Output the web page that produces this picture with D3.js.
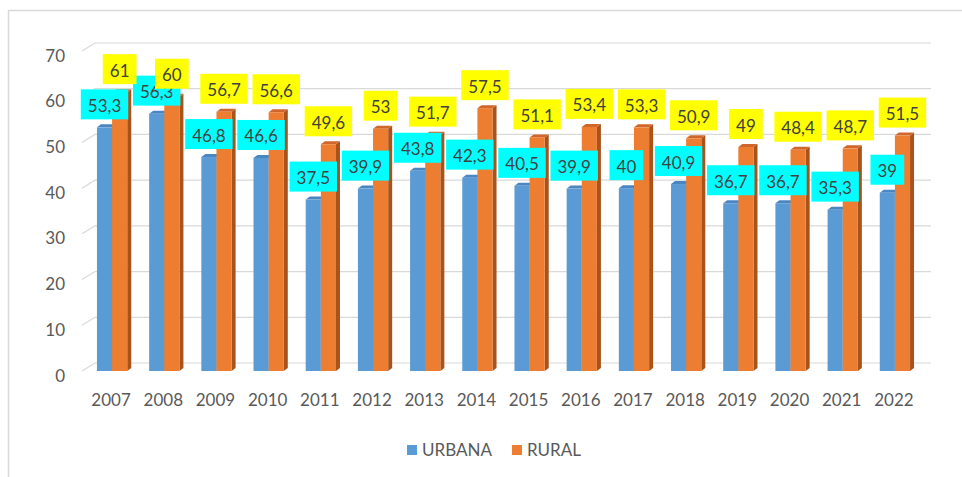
<!DOCTYPE html>
<html>
<head>
<meta charset="utf-8">
<script src="https://cdn.jsdelivr.net/npm/d3@7"></script>
<style>
  html, body { margin: 0; padding: 0; background: #fff; }
  svg { display: block; font-family: Lato, "Open Sans", sans-serif; }
</style>
</head>
<body>
<svg id="chart" width="962" height="477"></svg>
<script>
const years = ["2007","2008","2009","2010","2011","2012","2013","2014","2015","2016","2017","2018","2019","2020","2021","2022"];
const urbana = [53.3,56.3,46.8,46.6,37.5,39.9,43.8,42.3,40.5,39.9,40,40.9,36.7,36.7,35.3,39];
const rural  = [61,60,56.7,56.6,49.6,53,51.7,57.5,51.1,53.4,53.3,50.9,49,48.4,48.7,51.5];
const seriesNames = ["URBANA","RURAL"];
const yTicks = [0,10,20,30,40,50,60,70];

const svg = d3.select("#chart");
const fmt = v => String(v).replace(".", ",");

// frame
svg.append("rect").attr("x",8.5).attr("y",10.5).attr("width",1000).attr("height",1000)
  .attr("fill","none").attr("stroke","#d9d9d9").attr("stroke-width",1.5);

const yF = d3.scaleLinear().domain([0,70]).range([371,51]);   // front plane
const yB = d3.scaleLinear().domain([0,70]).range([363,43]);   // back wall
const x = d3.scaleBand().domain(years).range([86,921]).paddingInner(0.42).paddingOuter(0.21);
const xs = d3.scaleBand().domain(seriesNames).range([0, x.bandwidth()]);

const wallLeft = 95, wallRight = 931, sideFrontX = 82;

// gridlines (side wall slant + back wall)
const grid = svg.append("g").attr("stroke","#d9d9d9").attr("stroke-width",1.2).attr("fill","none");
yTicks.forEach(t => {
  grid.append("path").attr("d", `M${sideFrontX},${yF(t)}L${wallLeft},${yB(t)}L${wallRight},${yB(t)}`);
});

// y tick labels
svg.append("g").selectAll("text").data(yTicks).join("text")
  .attr("x",65).attr("y",d=>yF(d)+4)
  .attr("text-anchor","end").attr("dominant-baseline","central")
  .attr("font-size",17).attr("fill","#595959").text(d=>d);

// bars
const colors = {
  URBANA: {front:"#5B9BD5", top:"#4A86C2", side:"#3F74A8"},
  RURAL:  {front:"#ED7D31", top:"#D0662A", side:"#A9531C"}
};
const dx = 4, dy = -3;
const base = yF(0);
const bars = svg.append("g");
years.forEach((yr,i) => {
  const vals = {URBANA: urbana[i], RURAL: rural[i]};
  seriesNames.forEach(s => {
    const x0 = x(yr) + xs(s), x1 = x0 + xs.bandwidth(), yt = yF(vals[s]);
    const c = colors[s];
    bars.append("path").attr("fill", c.side)
      .attr("d", `M${x1},${yt}L${x1+dx},${yt+dy}L${x1+dx},${base+dy}L${x1},${base}Z`);
    bars.append("path").attr("fill", c.top)
      .attr("d", `M${x0},${yt}L${x0+dx},${yt+dy}L${x1+dx},${yt+dy}L${x1},${yt}Z`);
    bars.append("rect").attr("fill", c.front)
      .attr("x", x0).attr("y", yt).attr("width", x1-x0).attr("height", base-yt);
  });
});

// x labels
svg.append("g").selectAll("text").data(years).join("text")
  .attr("x", d => x(d) + x.bandwidth()/2 - 1).attr("y", 406)
  .attr("text-anchor","middle").attr("font-size",17).attr("fill","#595959").text(d=>d);

// data labels
const labels = svg.append("g");
const boxFill = {URBANA:"#00FFFF", RURAL:"#FFFF00"};
seriesNames.forEach(s => {
  const arr = s === "URBANA" ? urbana : rural;
  years.forEach((yr,i) => {
    const cx = x(yr) + xs(s) + xs.bandwidth()/2;
    const bottom = yF(arr[i]) - 8, h = 30;
    const g = labels.append("g");
    const r = g.append("rect").attr("fill", boxFill[s]);
    const t = g.append("text").attr("x", cx).attr("y", bottom - h/2 + 1)
      .attr("text-anchor","middle").attr("dominant-baseline","central")
      .attr("font-size",17).attr("fill","#404040").text(fmt(arr[i]));
    const w = t.node().getComputedTextLength() + 14;
    r.attr("x", cx - w/2).attr("y", bottom - h).attr("width", w).attr("height", h);
  });
});

// legend
const leg = svg.append("g");
let lx = 407;
seriesNames.forEach(s => {
  leg.append("rect").attr("x", lx).attr("y", 445).attr("width", 10).attr("height", 10).attr("fill", colors[s].front);
  const t = leg.append("text").attr("x", lx + 15).attr("y", 456).attr("font-size",17).attr("fill","#595959").text(s);
  lx = lx + 15 + t.node().getComputedTextLength() + 20;
});
</script>
</body>
</html>
